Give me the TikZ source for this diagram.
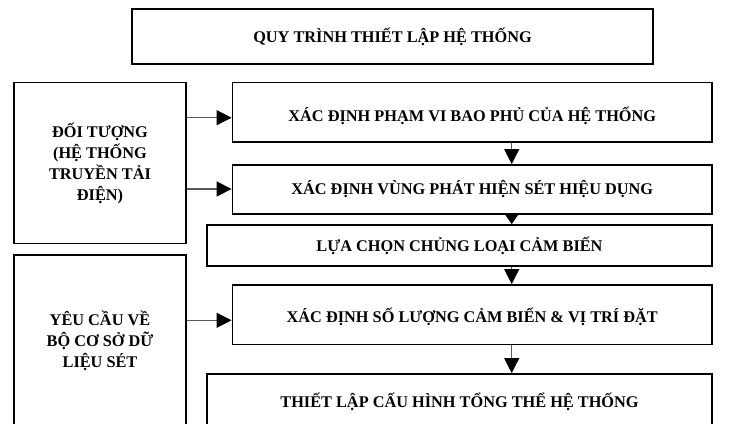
\documentclass[tikz,border=0pt]{standalone}
\usepackage{fontspec}
\setmainfont{Liberation Serif}
\usetikzlibrary{arrows.meta}
\begin{document}
\begin{tikzpicture}[x=1pt,y=-1pt,
  box/.style={draw=black, line width=1.8pt, fill=white, align=center, inner sep=0pt,
    font=\fontsize{16.3}{21}\selectfont\bfseries},
  txt/.style={align=center, inner sep=0pt, font=\fontsize{16.3}{21}\selectfont\bfseries},
  arr/.style={draw=black!65, line width=1.2pt, -{Triangle[length=15pt,width=15pt,color=black]}},
  arrs/.style={draw=black!65, line width=1.2pt, -{Triangle[length=11pt,width=15pt,color=black]}}]
\useasboundingbox (0,0) rectangle (735,423);
\clip (0,0) rectangle (735,423);
\node[box, minimum width=521pt, minimum height=55pt] (title) at (392.5,36.5) {QUY TRÌNH THIẾT LẬP HỆ THỐNG};
\node[box, minimum width=172pt, minimum height=161pt] (obj) at (100,163) {ĐỐI TƯỢNG\\(HỆ THỐNG\\TRUYỀN TẢI\\ĐIỆN)};
\node[box, minimum width=172pt, minimum height=172pt] (req) at (100,341) {YÊU CẦU VỀ\\BỘ CƠ SỞ DỮ\\LIỆU SÉT};
\node[box, minimum width=479.5pt, minimum height=59.5pt] (A) at (472.25,112.25) {};
\node[txt] (Atext) at (472.25,115.5) {XÁC ĐỊNH PHẠM VI BAO PHỦ CỦA HỆ THỐNG};
\node[box, minimum width=479.5pt, minimum height=49pt] (B) at (472.25,189.5) {XÁC ĐỊNH VÙNG PHÁT HIỆN SÉT HIỆU DỤNG};
\node[box, minimum width=505pt, minimum height=41pt] (C) at (459.5,245.5) {LỰA CHỌN CHỦNG LOẠI CẢM BIẾN};
\node[box, minimum width=479.5pt, minimum height=59.5pt] (D) at (472.25,314.75) {};
\node[txt] (Dtext) at (472.25,317) {XÁC ĐỊNH SỐ LƯỢNG CẢM BIẾN \& VỊ TRÍ ĐẶT};
\node[box, minimum width=505pt, minimum height=56pt] (E) at (459.5,402) {THIẾT LẬP CẤU HÌNH TỔNG THỂ HỆ THỐNG};
\draw[arr] (obj.east |- 0,117.7) -- (A.west |- 0,117.7);
\draw[arr] (obj.east |- 0,189) -- (B.west |- 0,189);
\draw[arr] (req.east |- 0,320.3) -- (D.west |- 0,320.3);
\draw[arr] (A.south -| 511.7,0) -- (B.north -| 511.7,0);
\draw[arrs] (B.south -| 511.7,0) -- (C.north -| 511.7,0);
\draw[arr] (C.south -| 511.7,0) -- (D.north -| 511.7,0);
\draw[arr] (D.south -| 511.7,0) -- (E.north -| 511.7,0);
\end{tikzpicture}
\end{document}
